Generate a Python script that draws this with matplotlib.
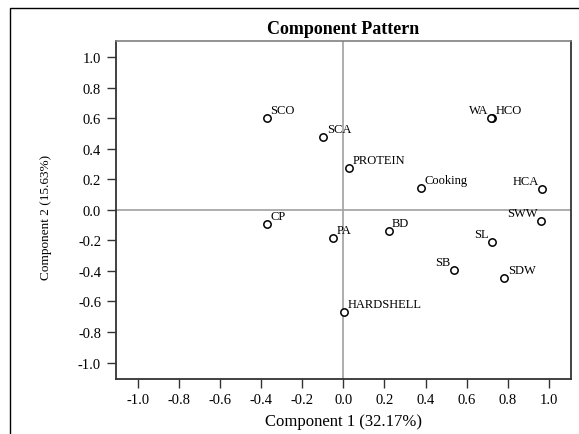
import matplotlib
matplotlib.use("Agg")
import matplotlib.pyplot as plt
from matplotlib.patches import Rectangle

names = ["SCO", "SCA", "PROTEIN", "Cooking", "HCO", "WA", "HCA", "SWW",
         "CP", "PA", "BD", "SL", "SB", "SDW", "HARDSHELL"]
comp1 = [-0.372, -0.098, 0.027, 0.380, 0.723, 0.720, 0.966, 0.963,
         -0.372, -0.051, 0.220, 0.724, 0.536, 0.783, 0.004]
comp2 = [0.600, 0.478, 0.271, 0.144, 0.600, 0.598, 0.136, -0.072,
         -0.094, -0.185, -0.137, -0.210, -0.395, -0.449, -0.672]
label_side = ["r", "r", "r", "r", "r", "l", "l", "l",
              "r", "r", "r", "l", "l", "r", "r"]
ticks = [-1.0, -0.8, -0.6, -0.4, -0.2, 0.0, 0.2, 0.4, 0.6, 0.8, 1.0]

plt.rcParams['font.family'] = ['Liberation Serif', 'DejaVu Serif']

fig = plt.figure(figsize=(5.79, 4.35), dpi=100)
ax = fig.add_axes([115.7/579, 1-379.7/435, (571-115.7)/579, (379.7-42)/435])

# outer frame
fig.patches.append(Rectangle((10/579, -0.2), 1.2, 1-9/435+0.2, transform=fig.transFigure,
                             fill=False, edgecolor='black', linewidth=1.0))

ax.axhline(0, color='#a0a0a0', lw=1.2, zorder=1)
ax.axvline(0, color='#a0a0a0', lw=1.2, zorder=1)
ax.scatter(comp1, comp2, s=28, facecolors='white', edgecolors='black', linewidths=1.1, zorder=3)

for n, x, y, s in zip(names, comp1, comp2, label_side):
    if s == "r":
        ax.annotate(n, (x, y), xytext=(2.5, 1.5), textcoords='offset points',
                    ha='left', va='bottom', fontsize=9, zorder=4)
    else:
        ax.annotate(n, (x, y), xytext=(-2.5, 1.5), textcoords='offset points',
                    ha='right', va='bottom', fontsize=9, zorder=4)

ax.set_xlim(-1.107, 1.107)
ax.set_ylim(-1.106, 1.105)
ax.set_xticks(ticks)
ax.set_yticks(ticks)
ax.set_xticklabels([f"{t:.1f}" for t in ticks], fontsize=10.5)
ax.set_yticklabels([f"{t:.1f}" for t in ticks], fontsize=10.5)
ax.tick_params(direction='out', length=6.5, width=1, color='#333333', pad=4)
for sp in ['left', 'bottom', 'right']:
    ax.spines[sp].set_color('#333333')
    ax.spines[sp].set_linewidth(1.3)
ax.spines['top'].set_color('#808080')
ax.spines['top'].set_linewidth(1.2)

ax.set_xlabel("Component 1 (32.17%)", fontsize=12, labelpad=5)
ax.set_ylabel("Component 2 (15.63%)", fontsize=9.5)
ax.yaxis.set_label_coords(52/579, 0.5, transform=fig.transFigure)
ax.set_title("Component Pattern", fontsize=13, fontweight='bold', pad=6)

fig.savefig("out.png", dpi=100)
